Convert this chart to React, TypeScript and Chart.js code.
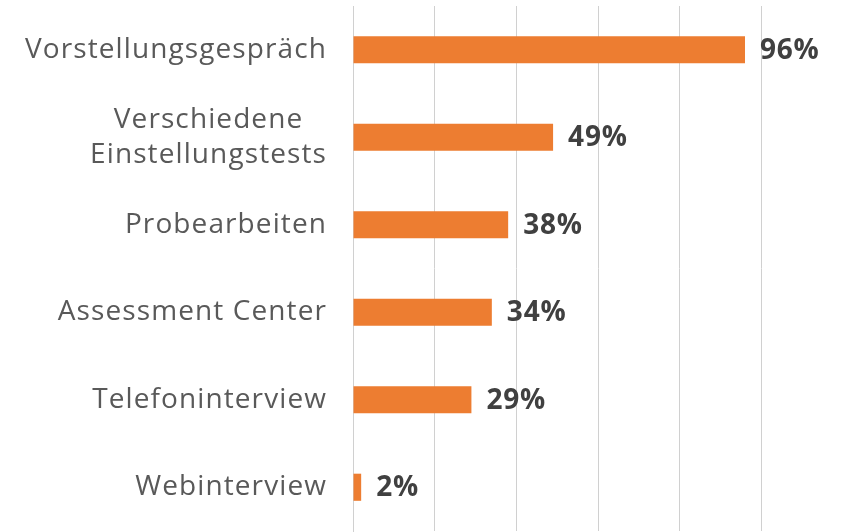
import React, { useEffect, useRef } from "react";
import { Chart, registerables } from "chart.js";

Chart.register(...registerables);

const categories: (string | string[])[] = [
  "Vorstellungsgespräch",
  ["Verschiedene", "Einstellungstests"],
  "Probearbeiten",
  "Assessment Center",
  "Telefoninterview",
  "Webinterview",
];
const values = [96, 49, 38, 34, 29, 2];
const xMin = 0;
const xMax = 120;
const xStep = 20;

const FONT = "'Open Sans', 'Noto Sans', sans-serif";
const LABEL_SIZE = 28;
const VALUE_SIZE = 28;

const categoryLabelPlugin = {
  id: "categoryLabels",
  afterDraw(chart: any) {
    const ctx = chart.ctx;
    const y = chart.scales.y;
    const right = y.right - 26;
    ctx.save();
    ctx.font = `${LABEL_SIZE}px ${FONT}`;
    (ctx as any).letterSpacing = "1.1px";
    ctx.fillStyle = "#595959";
    ctx.textBaseline = "middle";
    ctx.textAlign = "center";
    const lh = 35;
    categories.forEach((lab, i) => {
      const lines = Array.isArray(lab) ? lab : [lab];
      const maxW = Math.max(...lines.map((l) => ctx.measureText(l).width));
      const cx = right - maxW / 2;
      const cy = y.getPixelForTick(i);
      const start = cy - ((lines.length - 1) * lh) / 2;
      lines.forEach((l, k) => ctx.fillText(l, cx, start + k * lh));
    });
    ctx.restore();
  },
};

const valueLabelPlugin = {
  id: "valueLabels",
  afterDatasetsDraw(chart: any) {
    const ctx = chart.ctx;
    const meta = chart.getDatasetMeta(0);
    ctx.save();
    ctx.font = `bold ${VALUE_SIZE}px ${FONT}`;
    (ctx as any).letterSpacing = "0.8px";
    ctx.fillStyle = "#404040";
    ctx.textBaseline = "middle";
    ctx.textAlign = "left";
    meta.data.forEach((bar: any, i: number) => {
      ctx.fillText(`${values[i]}%`, bar.x + 15, bar.y + 1);
    });
    ctx.restore();
  },
};

export default function App() {
  const ref = useRef<HTMLCanvasElement | null>(null);
  useEffect(() => {
    if (!ref.current) return;
    const chart = new Chart(ref.current, {
      type: "bar",
      data: {
        labels: categories as any,
        datasets: [
          {
            data: values,
            backgroundColor: "#ED7D31",
            borderWidth: 0,
            categoryPercentage: 1,
            barPercentage: 0.31,
          },
        ],
      },
      options: {
        indexAxis: "y",
        animation: false,
        responsive: true,
        maintainAspectRatio: false,
        layout: { padding: { top: 6, bottom: 1, left: 0, right: 0 } },
        plugins: { legend: { display: false }, tooltip: { enabled: false } },
        scales: {
          x: {
            min: xMin,
            max: xMax,
            ticks: { display: false, stepSize: xStep },
            grid: { color: "#d0d0d0", lineWidth: 1, drawTicks: false },
            border: { display: false },
          },
          y: {
            ticks: { display: false },
            grid: { display: false },
            border: { display: true, color: "#d0d0d0", width: 1 },
            afterFit: (s: any) => {
              s.width = 353;
            },
          },
        },
      },
      plugins: [categoryLabelPlugin, valueLabelPlugin],
    });
    return () => chart.destroy();
  }, []);
  return (
    <div
      style={{
        position: "fixed",
        left: 0,
        top: 0,
        width: 842,
        height: 532,
        overflow: "hidden",
        background: "#fff",
      }}
    >
      <div style={{ position: "relative", width: 843, height: 532 }}>
        <canvas ref={ref} />
      </div>
    </div>
  );
}
